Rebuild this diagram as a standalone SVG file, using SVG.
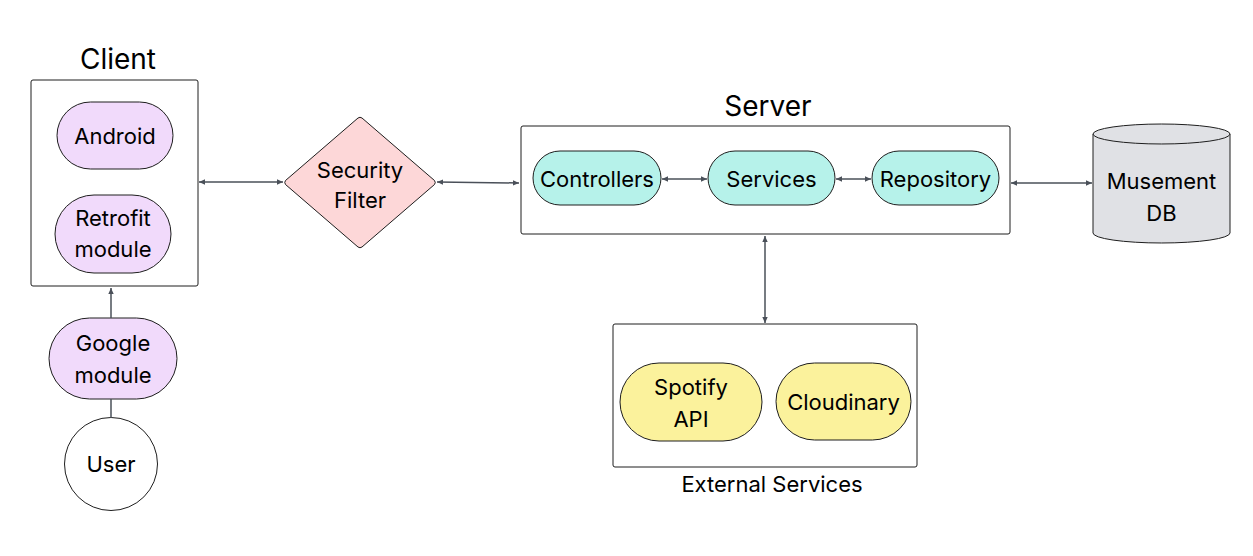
<svg xmlns="http://www.w3.org/2000/svg" width="1253" height="556" viewBox="0 0 1253 556">
<style>
text{font-family:Inter,"Liberation Sans",sans-serif;fill:#000;text-anchor:middle}
.t{font-size:22px}
.h{font-size:28px}
.box{fill:#fff;stroke:#1e1e1e;stroke-width:1}
.pu{fill:#f1dafb;stroke:#1e1e1e;stroke-width:1}
.cy{fill:#b6f2ea;stroke:#1e1e1e;stroke-width:1}
.ye{fill:#fbf29c;stroke:#1e1e1e;stroke-width:1}
.pk{fill:#fdd7d8;stroke:#1e1e1e;stroke-width:1}
.db{fill:#e0e1e5;stroke:#1e1e1e;stroke-width:1}
.c{fill:none;stroke:#4a5059;stroke-width:1.5}
</style>
<defs>
<marker id="ah" viewBox="0 0 10 10" refX="10" refY="5" markerWidth="6" markerHeight="6" orient="auto-start-reverse" markerUnits="userSpaceOnUse">
<path d="M0,0.5 L10,5 L0,9.5 z" fill="#4a5059"/>
</marker>
</defs>
<rect width="1253" height="556" fill="#fff"/>
<g id="client">
<text class="h" x="118" y="69">Client</text>
<rect class="box" x="31" y="80" width="167" height="206" rx="2"/>
</g>
<g id="android">
<rect class="pu" x="57" y="102" width="116" height="67" rx="33.5"/>
<text class="t" x="115" y="144">Android</text>
</g>
<g id="retrofit">
<rect class="pu" x="55" y="195" width="116" height="78" rx="39"/>
<text class="t" x="113" y="226">Retrofit</text>
<text class="t" x="113" y="257">module</text>
</g>
<g id="google">
<rect class="pu" x="49" y="318" width="128" height="81" rx="40.5"/>
<text class="t" x="113" y="351">Google</text>
<text class="t" x="113" y="383">module</text>
</g>
<g id="user">
<circle cx="111" cy="464" r="46.5" fill="#fff" stroke="#1e1e1e" stroke-width="1"/>
<text class="t" x="111" y="472">User</text>
</g>
<g id="security">
<path class="pk" d="M358,118 Q360,116.5 362,118 L434.5,180.5 Q436,182.5 434.5,184.5 L362,247 Q360,248.5 358,247 L285.5,184.5 Q284,182.5 285.5,180.5 Z"/>
<text class="t" x="360" y="178">Security</text>
<text class="t" x="360" y="208">Filter</text>
</g>
<g id="server">
<text class="h" x="768" y="116">Server</text>
<rect class="box" x="521" y="126" width="489" height="108" rx="2"/>
</g>
<g id="controllers">
<rect class="cy" x="533" y="151" width="128" height="54" rx="27"/>
<text class="t" x="597" y="187">Controllers</text>
</g>
<g id="services">
<rect class="cy" x="708" y="151" width="127" height="54" rx="27"/>
<text class="t" x="771.5" y="187">Services</text>
</g>
<g id="repository">
<rect class="cy" x="872" y="151" width="127" height="54" rx="27"/>
<text class="t" x="935.5" y="187">Repository</text>
</g>
<g id="db">
<path class="db" d="M1093,134 L1093,233 A68.5,10 0 0 0 1230,233 L1230,134 A68.5,10 0 0 0 1093,134 Z"/>
<path class="db" d="M1093,134 A68.5,10 0 0 0 1230,134" fill="none"/>
<text class="t" x="1161.5" y="189">Musement</text>
<text class="t" x="1161.5" y="221">DB</text>
</g>
<g id="external">
<rect class="box" x="613" y="324" width="304" height="143" rx="2"/>
<text class="t" x="772" y="492">External Services</text>
</g>
<g id="spotify">
<rect class="ye" x="620" y="363" width="142" height="78" rx="39"/>
<text class="t" x="691" y="395">Spotify</text>
<text class="t" x="691" y="427">API</text>
</g>
<g id="cloudinary">
<rect class="ye" x="776" y="363" width="135" height="77" rx="38.5"/>
<text class="t" x="843.5" y="410">Cloudinary</text>
</g>
<g id="connectors">
<line class="c" x1="199" y1="182" x2="283" y2="182" marker-start="url(#ah)" marker-end="url(#ah)"/>
<line class="c" x1="437" y1="182" x2="519" y2="183" marker-start="url(#ah)" marker-end="url(#ah)"/>
<line class="c" x1="662" y1="179" x2="707" y2="179" marker-start="url(#ah)" marker-end="url(#ah)"/>
<line class="c" x1="836" y1="179" x2="871" y2="179" marker-start="url(#ah)" marker-end="url(#ah)"/>
<line class="c" x1="1011" y1="183" x2="1092" y2="183" marker-start="url(#ah)" marker-end="url(#ah)"/>
<line class="c" x1="765" y1="236" x2="765" y2="323" marker-start="url(#ah)" marker-end="url(#ah)"/>
<line class="c" x1="111" y1="318" x2="111" y2="288" marker-end="url(#ah)"/>
<line class="c" x1="111" y1="399" x2="111" y2="418"/>
</g>
</svg>
